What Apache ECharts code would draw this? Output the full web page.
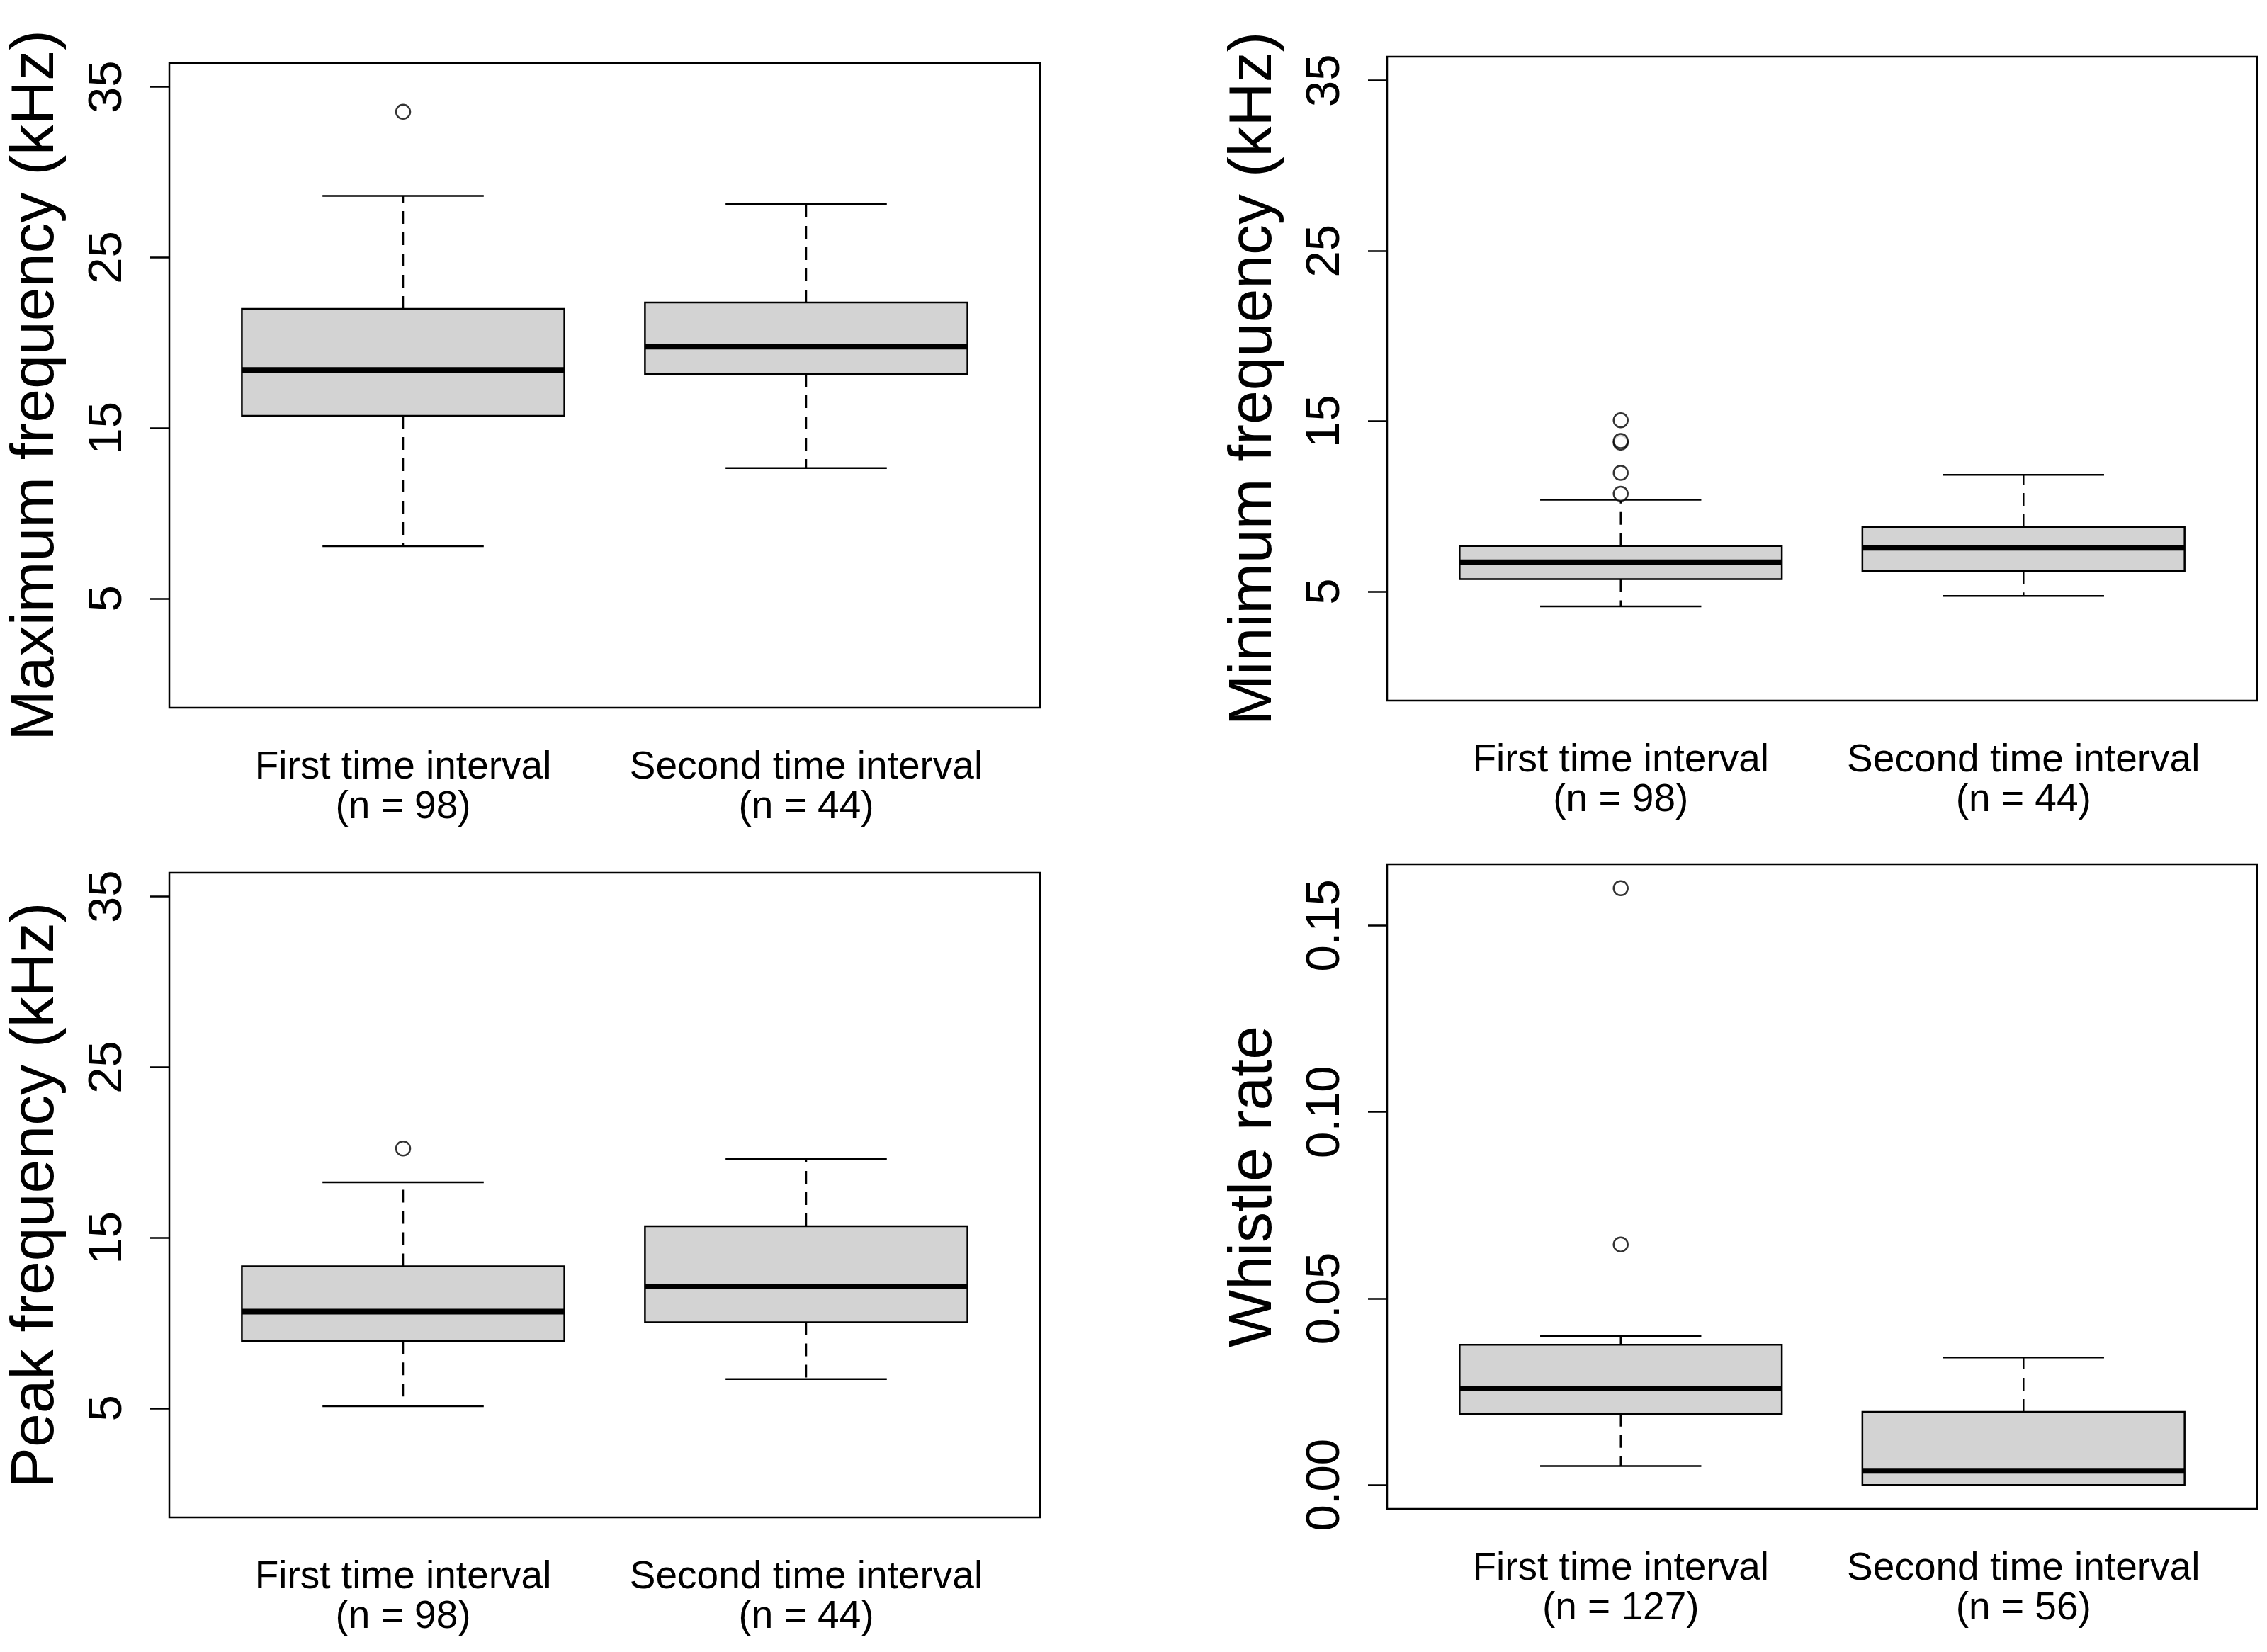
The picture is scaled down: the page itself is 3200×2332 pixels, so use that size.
<!DOCTYPE html>
<html>
<head>
<meta charset="utf-8">
<script src="https://cdn.jsdelivr.net/npm/echarts@6/dist/echarts.min.js"></script>
<style>
html,body{margin:0;padding:0;background:#fff;}
#chart{width:3200px;height:2332px;}
</style>
</head>
<body>
<div id="chart"></div>
<script>
// ---- data ----
const categoriesFreq = ['First time interval\n(n = 98)', 'Second time interval\n(n = 44)'];
const categoriesRate = ['First time interval\n(n = 127)', 'Second time interval\n(n = 56)'];
const freqTicks = [5, 15, 25, 35];
const rateTicks = [0, 0.05, 0.10, 0.15];

// [lower whisker, Q1, median, Q3, upper whisker] per group
const maxFreqStats = [[8.07, 15.71, 18.40, 21.99, 28.61], [12.65, 18.16, 19.77, 22.36, 28.14]];
const maxFreqOutliers = [[1, 33.54]];
const minFreqStats = [[4.13, 5.73, 6.72, 7.68, 10.39], [4.74, 6.20, 7.57, 8.79, 11.85]];
const minFreqOutliers = [[1, 15.06], [1, 13.74], [1, 13.84], [1, 11.97], [1, 10.74]];
const peakFreqStats = [[5.12, 8.93, 10.67, 13.33, 18.25], [6.71, 10.04, 12.14, 15.67, 19.63]];
const peakFreqOutliers = [[1, 20.23]];
const whistleStats = [[0.0051, 0.0191, 0.0259, 0.0376, 0.0399], [0.0, 0.0, 0.0038, 0.0196, 0.0342]];
const whistleOutliers = [[1, 0.160], [1, 0.0645]];

const FONT = "'Liberation Sans', Arial, sans-serif";

function renderBox(params, api) {
  const x = api.value(0);
  const v = [api.value(1), api.value(2), api.value(3), api.value(4), api.value(5)];
  const half = api.size([0.4, 0])[0];
  const capHalf = api.size([0.2, 0])[0];
  const c = v.map(val => api.coord([x, val]));
  const cx = c[0][0];
  const dash = {stroke: '#000', lineWidth: 2.5, lineDash: [18, 12]};
  const solid = {stroke: '#000', lineWidth: 2.5};
  return {
    type: 'group',
    children: [
      {type: 'line', shape: {x1: cx, y1: c[3][1], x2: cx, y2: c[4][1]}, style: dash},
      {type: 'line', shape: {x1: cx, y1: c[1][1], x2: cx, y2: c[0][1]}, style: dash},
      {type: 'line', shape: {x1: cx - capHalf, y1: c[4][1], x2: cx + capHalf, y2: c[4][1]}, style: solid},
      {type: 'line', shape: {x1: cx - capHalf, y1: c[0][1], x2: cx + capHalf, y2: c[0][1]}, style: solid},
      {type: 'rect', shape: {x: cx - half, y: c[3][1], width: 2 * half, height: c[1][1] - c[3][1]},
        style: {fill: '#d3d3d3', stroke: '#000', lineWidth: 2.5}},
      {type: 'line', shape: {x1: cx - half, y1: c[2][1], x2: cx + half, y2: c[2][1]}, style: {stroke: '#000', lineWidth: 8}}
    ]
  };
}

const panels = [
  {grid: {left: 239, top: 89, width: 1229, height: 910}, name: 'Maximum frequency (kHz)',
    stats: maxFreqStats, out: maxFreqOutliers, cats: categoriesFreq, ticks: freqTicks, min: -1.4, max: 36.4, dec: 0},
  {grid: {left: 1958, top: 80, width: 1228, height: 909}, name: 'Minimum frequency (kHz)',
    stats: minFreqStats, out: minFreqOutliers, cats: categoriesFreq, ticks: freqTicks, min: -1.4, max: 36.4, dec: 0},
  {grid: {left: 239, top: 1232, width: 1229, height: 910}, name: 'Peak frequency (kHz)',
    stats: peakFreqStats, out: peakFreqOutliers, cats: categoriesFreq, ticks: freqTicks, min: -1.4, max: 36.4, dec: 0},
  {grid: {left: 1958, top: 1220, width: 1228, height: 910}, name: 'Whistle rate',
    stats: whistleStats, out: whistleOutliers, cats: categoriesRate, ticks: rateTicks, min: -0.0064, max: 0.1664, dec: 2}
];

const option = {
  backgroundColor: '#fff',
  animation: false,
  grid: [], xAxis: [], yAxis: [], series: []
};

panels.forEach((p, i) => {
  option.grid.push(Object.assign({show: true, borderColor: '#000', borderWidth: 2.5, backgroundColor: 'transparent'}, p.grid));
  option.xAxis.push({
    type: 'value', gridIndex: i, min: 0.42, max: 2.58,
    axisLine: {show: false, onZero: false},
    axisTick: {show: false},
    splitLine: {show: false},
    axisLabel: {
      customValues: [1, 2],
      formatter: (val) => p.cats[Math.round(val) - 1] || '',
      margin: 57, fontSize: 55, lineHeight: 56, color: '#000', fontFamily: FONT
    }
  });
  option.yAxis.push({
    type: 'value', gridIndex: i, min: p.min, max: p.max,
    name: p.name, nameLocation: 'middle', nameRotate: 90, nameGap: 145,
    nameTextStyle: {fontSize: 86, color: '#000', fontFamily: FONT},
    axisLine: {show: false, onZero: false},
    axisTick: {show: true, inside: false, length: 27, customValues: p.ticks, lineStyle: {color: '#000', width: 2.5}},
    splitLine: {show: false},
    axisLabel: {
      customValues: p.ticks, rotate: 90, margin: 53, fontSize: 67, color: '#000', fontFamily: FONT,
      formatter: (val) => Number(val).toFixed(p.dec)
    }
  });
  option.series.push({
    type: 'custom', xAxisIndex: i, yAxisIndex: i,
    renderItem: renderBox,
    encode: {x: 0, y: [1, 2, 3, 4, 5]},
    data: p.stats.map((s, k) => [k + 1].concat(s)),
    z: 2
  });
  option.series.push({
    type: 'scatter', xAxisIndex: i, yAxisIndex: i,
    symbol: 'circle', symbolSize: 20,
    itemStyle: {color: '#fff', borderColor: '#000', borderWidth: 2.5},
    data: p.out, z: 3
  });
});

const chart = echarts.init(document.getElementById('chart'), null, {renderer: 'canvas'});
chart.setOption(option);
</script>
</body>
</html>
